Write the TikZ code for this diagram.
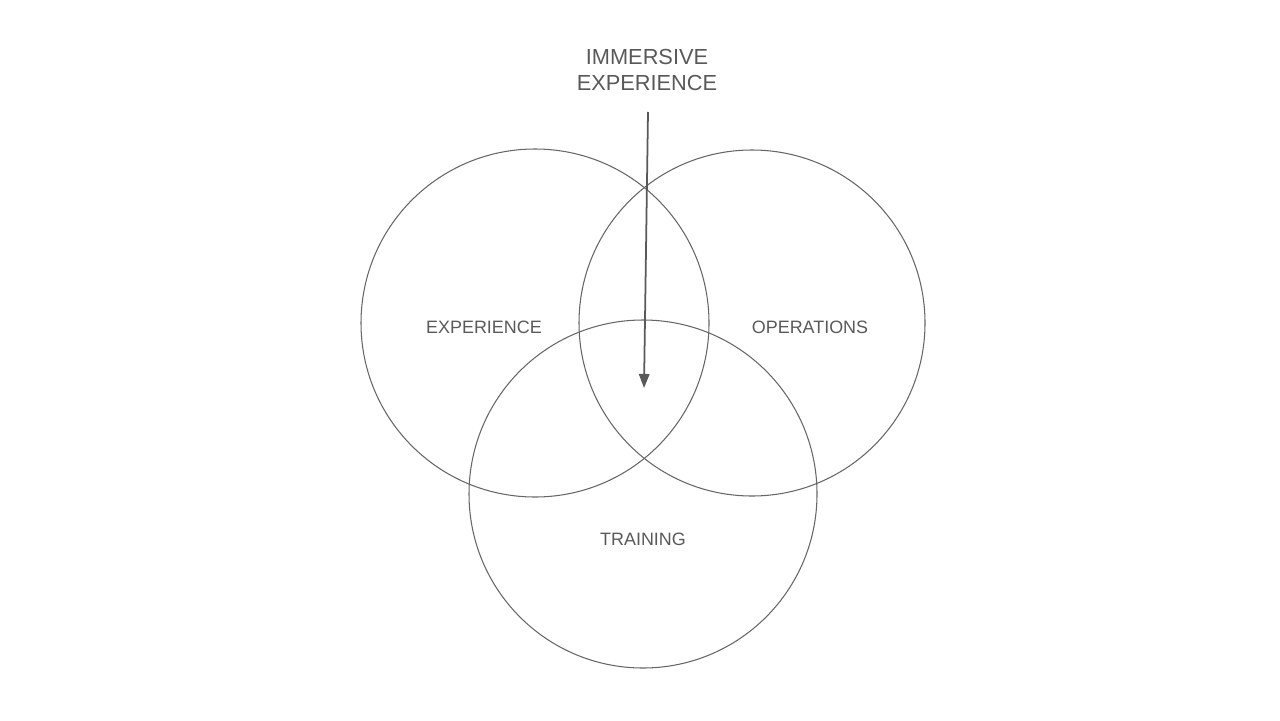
\documentclass[tikz,border=0pt]{standalone}
\usepackage{fontspec}
\setmainfont{Liberation Sans}
\usetikzlibrary{arrows.meta}
\definecolor{txt}{HTML}{595959}
\definecolor{ln}{HTML}{666666}
\begin{document}
\begin{tikzpicture}[x=0.02cm,y=-0.02cm,
  ring/.style={draw=ln,line width=0.6pt},
  lbl/.style={text=txt,font=\fontsize{10.2pt}{12pt}\selectfont,inner sep=0pt},
  biglbl/.style={text=txt,font=\fontsize{12.4pt}{14.5pt}\selectfont,align=center,inner sep=0pt},
  pointer/.style={draw=txt,line width=1pt,-{Triangle[length=8pt,width=6pt]}}]
\useasboundingbox (0,0) rectangle (1280,720);
\draw[ring] (535,323) circle (174);
\draw[ring] (752,323) circle (173);
\draw[ring] (643,494) circle (174);
\node[lbl] (exp) at (484,327) {EXPERIENCE};
\node[lbl] (ops) at (810,327) {OPERATIONS};
\node[lbl] (trn) at (643,539) {TRAINING};
\node[biglbl] (imm) at (647,70) {IMMERSIVE\\EXPERIENCE};
\coordinate (start) at (648,112);
\coordinate (tip) at (644,388);
\draw[pointer] (start) -- (tip);
\end{tikzpicture}
\end{document}
